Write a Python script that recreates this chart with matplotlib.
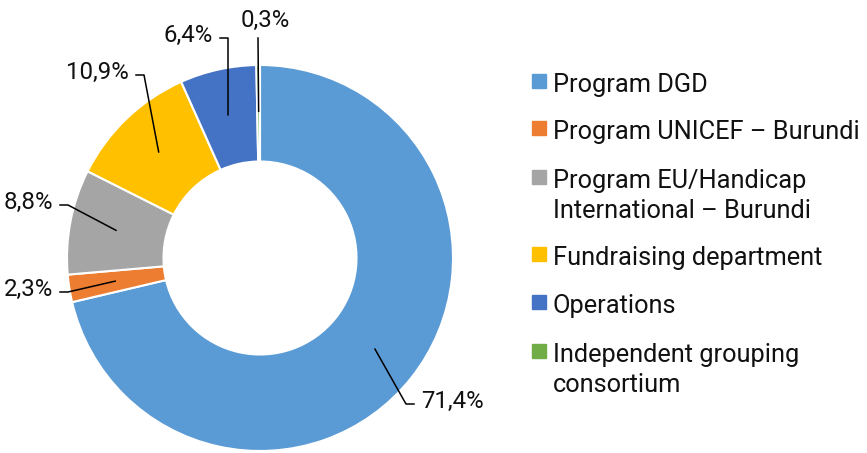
import numpy as np
import matplotlib
matplotlib.use("Agg")
import matplotlib.pyplot as plt
from matplotlib.patches import Rectangle

plt.rcParams['font.family'] = ['Roboto', 'DejaVu Sans']

categories = ["Program DGD", "Program UNICEF \u2013 Burundi",
              "Program EU/Handicap\nInternational \u2013 Burundi",
              "Fundraising department", "Operations",
              "Independent grouping\nconsortium"]
values = [71.4, 2.3, 8.8, 10.9, 6.4, 0.3]
colors = ["#5B9BD5", "#ED7D31", "#A5A5A5", "#FFC000", "#4472C4", "#70AD47"]

W, H = 867, 453
fig = plt.figure(figsize=(W / 100, H / 100), dpi=100)

# pie placed by pixel geometry: center (260, 258), radius 193
cx, cy, R = 260, 258, 193
ax = fig.add_axes([(cx - R) / W, (H - cy - R) / H, 2 * R / W, 2 * R / H])
wedges, _ = ax.pie(values, colors=colors, startangle=90, counterclock=False,
                   radius=1, wedgeprops=dict(width=0.5, edgecolor='white', linewidth=1.5))
ax.set_xlim(-1, 1)
ax.set_ylim(-1, 1)
ax.set_aspect('equal')
ax.axis('off')


def px(x, y):
    # pixel position -> pie data coords
    return (x - cx) / R, (cy - y) / R


# label text positions (pixels) and alignment
label_pos = [(421, 401, 'left'), (53, 289, 'right'), (53, 202, 'right'),
             (129, 72, 'right'), (213, 35, 'right'), (265, 20, 'center')]
fs = 17.3
for w, v, (lx, ly, ha) in zip(wedges, values, label_pos):
    mid = np.deg2rad((w.theta1 + w.theta2) / 2)
    ax_, ay_ = 0.76 * np.cos(mid), 0.76 * np.sin(mid)
    tx, ty = px(lx, ly)
    ax.text(tx, ty, f"{v:.1f}%".replace('.', ','), ha=ha, va='center',
            fontsize=fs, color='#111111', clip_on=False)
    if ha == 'center':
        s = px(258, 38)
        xs, ys = [s[0], ax_], [s[1], ay_]
    else:
        d = 1 if ha == 'left' else -1
        e1 = px(lx - d * 7, ly + 3)
        e2 = px(lx - d * 15, ly + 3)
        xs, ys = [e1[0], e2[0], ax_], [e1[1], e2[1], ay_]
    ax.plot(xs, ys, color='black', lw=1.1, clip_on=False)

# legend
row_base = [92, 139, 188, 265, 313, 362]
for lab, col, yb in zip(categories, colors, row_base):
    fig.add_artist(Rectangle((532 / W, (H - 88 - (yb - 92)) / H), 14 / W, 14 / H,
                             transform=fig.transFigure, color=col))
    for i, line in enumerate(lab.split("\n")):
        fig.text(553 / W, (H - yb - i * 30) / H, line, ha='left', va='baseline',
                 fontsize=18.3, color='#111111')

fig.savefig("out.png", dpi=100)
